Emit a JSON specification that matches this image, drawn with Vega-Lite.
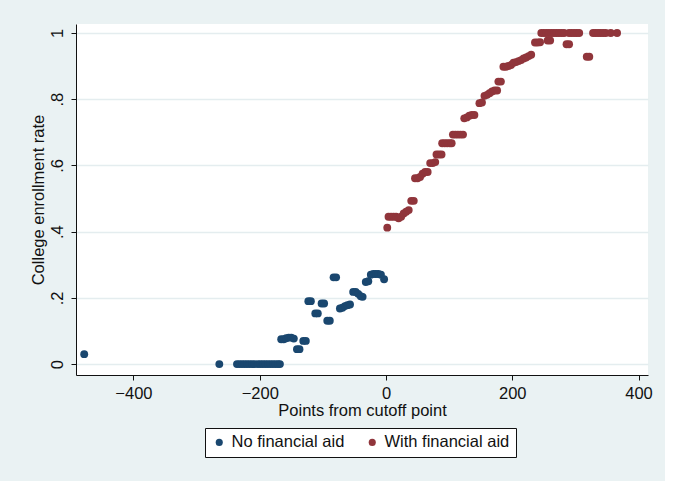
{
  "$schema": "https://vega.github.io/schema/vega-lite/v6.json",
  "width": 572,
  "height": 351,
  "autosize": {"type": "none"},
  "padding": {"left": 76, "top": 24, "right": 17, "bottom": 106},
  "background": "#EAF2F3",
  "config": {
    "view": {"fill": "white", "stroke": null},
    "font": "Liberation Sans",
    "axis": {
      "labelFont": "Liberation Sans",
      "titleFont": "Liberation Sans",
      "labelFontSize": 16.5,
      "titleFontSize": 16.5,
      "titleFontWeight": "normal",
      "labelColor": "#111",
      "titleColor": "#111",
      "domainColor": "#111",
      "tickColor": "#111",
      "tickSize": 5,
      "domainWidth": 1,
      "tickWidth": 1
    },
    "legend": {
      "labelFont": "Liberation Sans",
      "labelFontSize": 16.5,
      "labelColor": "#111"
    }
  },
  "datasets": {
    "enroll": [
      {"score": -478, "rate": 0.03, "group": "No financial aid"},
      {"score": -264, "rate": 0.0, "group": "No financial aid"},
      {"score": -236, "rate": 0.0, "group": "No financial aid"},
      {"score": -232, "rate": 0.0, "group": "No financial aid"},
      {"score": -228, "rate": 0.0, "group": "No financial aid"},
      {"score": -224, "rate": 0.0, "group": "No financial aid"},
      {"score": -220, "rate": 0.0, "group": "No financial aid"},
      {"score": -216, "rate": 0.0, "group": "No financial aid"},
      {"score": -212, "rate": 0.0, "group": "No financial aid"},
      {"score": -208, "rate": 0.0, "group": "No financial aid"},
      {"score": -203, "rate": 0.0, "group": "No financial aid"},
      {"score": -199, "rate": 0.0, "group": "No financial aid"},
      {"score": -195, "rate": 0.0, "group": "No financial aid"},
      {"score": -191, "rate": 0.0, "group": "No financial aid"},
      {"score": -187, "rate": 0.0, "group": "No financial aid"},
      {"score": -183, "rate": 0.0, "group": "No financial aid"},
      {"score": -179, "rate": 0.0, "group": "No financial aid"},
      {"score": -175, "rate": 0.0, "group": "No financial aid"},
      {"score": -171, "rate": 0.0, "group": "No financial aid"},
      {"score": -168, "rate": 0.0, "group": "No financial aid"},
      {"score": -166, "rate": 0.075, "group": "No financial aid"},
      {"score": -162, "rate": 0.075, "group": "No financial aid"},
      {"score": -158, "rate": 0.078, "group": "No financial aid"},
      {"score": -154, "rate": 0.08, "group": "No financial aid"},
      {"score": -150, "rate": 0.08, "group": "No financial aid"},
      {"score": -146, "rate": 0.077, "group": "No financial aid"},
      {"score": -141, "rate": 0.045, "group": "No financial aid"},
      {"score": -137, "rate": 0.045, "group": "No financial aid"},
      {"score": -131, "rate": 0.07, "group": "No financial aid"},
      {"score": -127, "rate": 0.07, "group": "No financial aid"},
      {"score": -123, "rate": 0.19, "group": "No financial aid"},
      {"score": -119, "rate": 0.19, "group": "No financial aid"},
      {"score": -112, "rate": 0.153, "group": "No financial aid"},
      {"score": -108, "rate": 0.153, "group": "No financial aid"},
      {"score": -102, "rate": 0.183, "group": "No financial aid"},
      {"score": -98, "rate": 0.183, "group": "No financial aid"},
      {"score": -93, "rate": 0.131, "group": "No financial aid"},
      {"score": -89, "rate": 0.131, "group": "No financial aid"},
      {"score": -83, "rate": 0.262, "group": "No financial aid"},
      {"score": -79, "rate": 0.262, "group": "No financial aid"},
      {"score": -73, "rate": 0.168, "group": "No financial aid"},
      {"score": -69, "rate": 0.17, "group": "No financial aid"},
      {"score": -65, "rate": 0.175, "group": "No financial aid"},
      {"score": -61, "rate": 0.178, "group": "No financial aid"},
      {"score": -57, "rate": 0.18, "group": "No financial aid"},
      {"score": -52, "rate": 0.218, "group": "No financial aid"},
      {"score": -48, "rate": 0.218, "group": "No financial aid"},
      {"score": -44, "rate": 0.212, "group": "No financial aid"},
      {"score": -40, "rate": 0.205, "group": "No financial aid"},
      {"score": -37, "rate": 0.203, "group": "No financial aid"},
      {"score": -32, "rate": 0.248, "group": "No financial aid"},
      {"score": -28, "rate": 0.25, "group": "No financial aid"},
      {"score": -24, "rate": 0.27, "group": "No financial aid"},
      {"score": -20, "rate": 0.272, "group": "No financial aid"},
      {"score": -16, "rate": 0.272, "group": "No financial aid"},
      {"score": -12, "rate": 0.272, "group": "No financial aid"},
      {"score": -8, "rate": 0.27, "group": "No financial aid"},
      {"score": -3, "rate": 0.256, "group": "No financial aid"},
      {"score": 2, "rate": 0.412, "group": "With financial aid"},
      {"score": 4, "rate": 0.445, "group": "With financial aid"},
      {"score": 8, "rate": 0.445, "group": "With financial aid"},
      {"score": 12, "rate": 0.445, "group": "With financial aid"},
      {"score": 16, "rate": 0.445, "group": "With financial aid"},
      {"score": 20, "rate": 0.44, "group": "With financial aid"},
      {"score": 24, "rate": 0.445, "group": "With financial aid"},
      {"score": 28, "rate": 0.455, "group": "With financial aid"},
      {"score": 32, "rate": 0.46, "group": "With financial aid"},
      {"score": 36, "rate": 0.465, "group": "With financial aid"},
      {"score": 40, "rate": 0.493, "group": "With financial aid"},
      {"score": 44, "rate": 0.493, "group": "With financial aid"},
      {"score": 46, "rate": 0.561, "group": "With financial aid"},
      {"score": 50, "rate": 0.561, "group": "With financial aid"},
      {"score": 54, "rate": 0.565, "group": "With financial aid"},
      {"score": 58, "rate": 0.575, "group": "With financial aid"},
      {"score": 62, "rate": 0.58, "group": "With financial aid"},
      {"score": 66, "rate": 0.58, "group": "With financial aid"},
      {"score": 70, "rate": 0.607, "group": "With financial aid"},
      {"score": 74, "rate": 0.607, "group": "With financial aid"},
      {"score": 78, "rate": 0.61, "group": "With financial aid"},
      {"score": 80, "rate": 0.633, "group": "With financial aid"},
      {"score": 84, "rate": 0.633, "group": "With financial aid"},
      {"score": 88, "rate": 0.633, "group": "With financial aid"},
      {"score": 89, "rate": 0.667, "group": "With financial aid"},
      {"score": 93, "rate": 0.667, "group": "With financial aid"},
      {"score": 97, "rate": 0.667, "group": "With financial aid"},
      {"score": 101, "rate": 0.667, "group": "With financial aid"},
      {"score": 104, "rate": 0.667, "group": "With financial aid"},
      {"score": 106, "rate": 0.693, "group": "With financial aid"},
      {"score": 110, "rate": 0.693, "group": "With financial aid"},
      {"score": 114, "rate": 0.693, "group": "With financial aid"},
      {"score": 118, "rate": 0.693, "group": "With financial aid"},
      {"score": 122, "rate": 0.693, "group": "With financial aid"},
      {"score": 124, "rate": 0.742, "group": "With financial aid"},
      {"score": 128, "rate": 0.745, "group": "With financial aid"},
      {"score": 132, "rate": 0.75, "group": "With financial aid"},
      {"score": 136, "rate": 0.752, "group": "With financial aid"},
      {"score": 140, "rate": 0.752, "group": "With financial aid"},
      {"score": 148, "rate": 0.788, "group": "With financial aid"},
      {"score": 152, "rate": 0.79, "group": "With financial aid"},
      {"score": 156, "rate": 0.81, "group": "With financial aid"},
      {"score": 160, "rate": 0.813, "group": "With financial aid"},
      {"score": 164, "rate": 0.818, "group": "With financial aid"},
      {"score": 168, "rate": 0.823, "group": "With financial aid"},
      {"score": 172, "rate": 0.826, "group": "With financial aid"},
      {"score": 176, "rate": 0.826, "group": "With financial aid"},
      {"score": 178, "rate": 0.853, "group": "With financial aid"},
      {"score": 182, "rate": 0.853, "group": "With financial aid"},
      {"score": 186, "rate": 0.898, "group": "With financial aid"},
      {"score": 190, "rate": 0.898, "group": "With financial aid"},
      {"score": 194, "rate": 0.9, "group": "With financial aid"},
      {"score": 198, "rate": 0.903, "group": "With financial aid"},
      {"score": 202, "rate": 0.91, "group": "With financial aid"},
      {"score": 206, "rate": 0.912, "group": "With financial aid"},
      {"score": 210, "rate": 0.915, "group": "With financial aid"},
      {"score": 214, "rate": 0.918, "group": "With financial aid"},
      {"score": 218, "rate": 0.923, "group": "With financial aid"},
      {"score": 222, "rate": 0.926, "group": "With financial aid"},
      {"score": 226, "rate": 0.93, "group": "With financial aid"},
      {"score": 230, "rate": 0.934, "group": "With financial aid"},
      {"score": 236, "rate": 0.971, "group": "With financial aid"},
      {"score": 240, "rate": 0.971, "group": "With financial aid"},
      {"score": 244, "rate": 0.972, "group": "With financial aid"},
      {"score": 246, "rate": 1.0, "group": "With financial aid"},
      {"score": 250, "rate": 1.0, "group": "With financial aid"},
      {"score": 254, "rate": 1.0, "group": "With financial aid"},
      {"score": 256, "rate": 0.977, "group": "With financial aid"},
      {"score": 260, "rate": 0.977, "group": "With financial aid"},
      {"score": 258, "rate": 1.0, "group": "With financial aid"},
      {"score": 262, "rate": 1.0, "group": "With financial aid"},
      {"score": 266, "rate": 1.0, "group": "With financial aid"},
      {"score": 270, "rate": 1.0, "group": "With financial aid"},
      {"score": 274, "rate": 1.0, "group": "With financial aid"},
      {"score": 278, "rate": 1.0, "group": "With financial aid"},
      {"score": 282, "rate": 1.0, "group": "With financial aid"},
      {"score": 286, "rate": 0.966, "group": "With financial aid"},
      {"score": 290, "rate": 0.966, "group": "With financial aid"},
      {"score": 290, "rate": 1.0, "group": "With financial aid"},
      {"score": 294, "rate": 1.0, "group": "With financial aid"},
      {"score": 298, "rate": 1.0, "group": "With financial aid"},
      {"score": 302, "rate": 1.0, "group": "With financial aid"},
      {"score": 306, "rate": 1.0, "group": "With financial aid"},
      {"score": 318, "rate": 0.928, "group": "With financial aid"},
      {"score": 322, "rate": 0.928, "group": "With financial aid"},
      {"score": 328, "rate": 1.0, "group": "With financial aid"},
      {"score": 332, "rate": 1.0, "group": "With financial aid"},
      {"score": 336, "rate": 1.0, "group": "With financial aid"},
      {"score": 340, "rate": 1.0, "group": "With financial aid"},
      {"score": 344, "rate": 1.0, "group": "With financial aid"},
      {"score": 348, "rate": 1.0, "group": "With financial aid"},
      {"score": 356, "rate": 1.0, "group": "With financial aid"},
      {"score": 366, "rate": 1.0, "group": "With financial aid"}
    ]
  },
  "data": {"name": "enroll"},
  "mark": {"type": "circle", "size": 62, "opacity": 1},
  "encoding": {
    "x": {
      "field": "score",
      "type": "quantitative",
      "title": "Points from cutoff point",
      "scale": {"domain": [-491, 415], "nice": false, "zero": false},
      "axis": {
        "values": [-400, -200, 0, 200, 400],
        "grid": false,
        "labelPadding": 5,
        "titlePadding": 1,
        "labelFlush": false
      }
    },
    "y": {
      "field": "rate",
      "type": "quantitative",
      "title": "College enrollment rate",
      "scale": {"domain": [-0.033, 1.027], "nice": false, "zero": false},
      "axis": {
        "values": [0, 0.2, 0.4, 0.6, 0.8, 1],
        "labelExpr": "replace(format(datum.value, '.1~f'), '0.', '.')",
        "labelAngle": -90,
        "labelAlign": "center",
        "labelBaseline": "alphabetic",
        "labelPadding": 9,
        "titlePadding": 3,
        "labelFlush": false,
        "grid": true,
        "gridColor": "#E4EDEF",
        "gridWidth": 1.5
      }
    },
    "color": {
      "field": "group",
      "type": "nominal",
      "scale": {
        "domain": ["No financial aid", "With financial aid"],
        "range": ["#1A476F", "#90353B"]
      },
      "legend": {
        "title": null,
        "orient": "none",
        "direction": "horizontal",
        "legendX": 129,
        "legendY": 404,
        "symbolType": "circle",
        "symbolSize": 50,
        "symbolOpacity": 1,
        "labelOffset": 4,
        "columnPadding": 19,
        "padding": 6,
        "fillColor": "white",
        "strokeColor": "#111"
      }
    }
  }
}
